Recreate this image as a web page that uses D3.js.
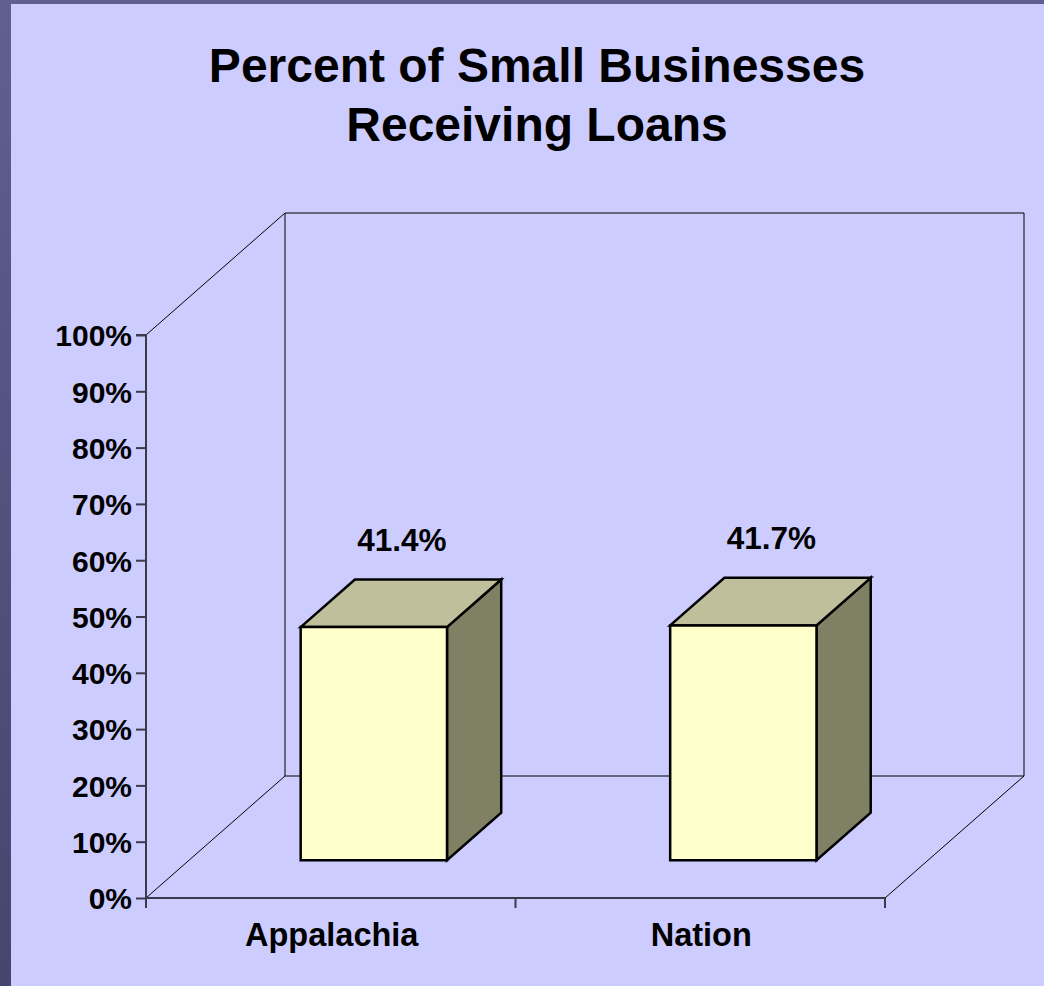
<!DOCTYPE html>
<html>
<head>
<meta charset="utf-8">
<script src="https://cdn.jsdelivr.net/npm/d3@7"></script>
<style>
  html, body { margin: 0; padding: 0; background: #5a5a8a; }
  svg { display: block; }
  text { font-family: "Liberation Sans", Arial, sans-serif; font-weight: bold; fill: #000; }
</style>
</head>
<body>
<svg id="chart" width="1044" height="986"></svg>
<script>
// Chart data
const categories = ["Appalachia", "Nation"];
const values = [0.414, 0.417];
const valueLabels = ["41.4%", "41.7%"];
const tickValues = [0, 0.1, 0.2, 0.3, 0.4, 0.5, 0.6, 0.7, 0.8, 0.9, 1.0];
const titleLines = ["Percent of Small Businesses", "Receiving Loans"];

const W = 1044, H = 986;
const svg = d3.select("#chart");

// Slide backdrop and chart panel
const defs = svg.append("defs");
const bg = defs.append("linearGradient").attr("id", "slideBg")
  .attr("x1", 0).attr("y1", 0).attr("x2", 0).attr("y2", 1);
bg.append("stop").attr("offset", "0%").attr("stop-color", "#5f5f92");
bg.append("stop").attr("offset", "100%").attr("stop-color", "#45456d");
svg.append("rect").attr("width", W).attr("height", H).attr("fill", "url(#slideBg)");
svg.append("rect").attr("x", 11).attr("y", 4).attr("width", W - 11).attr("height", H - 4)
  .attr("fill", "#ccccff");

// Plot geometry (front plane) and depth offset of the 3D box
const plot = { left: 146, right: 885, top: 335, bottom: 898 };
const depth = { dx: 139, dy: -122 };
const barDepth = { front: 0.31, back: 0.70 };

const x = d3.scaleBand().domain(categories).range([plot.left, plot.right]).paddingInner(0).paddingOuter(0);
const y = d3.scaleLinear().domain([0, 1]).range([plot.bottom, plot.top]);

const proj = (px, py, z) => [px + z * depth.dx, py + z * depth.dy];

// Walls and floor outline
const walls = svg.append("g").attr("fill", "none").attr("stroke", "#000").attr("stroke-width", 1);
const bTL = proj(plot.left, plot.top, 1), bBL = proj(plot.left, plot.bottom, 1);
const bTR = proj(plot.right, plot.top, 1), bBR = proj(plot.right, plot.bottom, 1);
walls.append("path").attr("d", `M${bBL}L${bTL}L${bTR}L${bBR}L${bBL}`);
walls.append("line").attr("x1", plot.left).attr("y1", plot.top).attr("x2", bTL[0]).attr("y2", bTL[1]);
walls.append("line").attr("x1", plot.left).attr("y1", plot.bottom).attr("x2", bBL[0]).attr("y2", bBL[1]);
walls.append("line").attr("x1", plot.right).attr("y1", plot.bottom).attr("x2", bBR[0]).attr("y2", bBR[1]);

// Axes
const yAxis = d3.axisLeft(y).tickValues(tickValues).tickFormat(d3.format(".0%")).tickSize(10).tickPadding(4);
const gy = svg.append("g").attr("transform", `translate(${plot.left},0)`).call(yAxis);
gy.select(".domain").attr("stroke", "#3a3a4a").attr("stroke-width", 2)
  .attr("d", `M-10,${plot.top}H0V${plot.bottom + 10}`);
gy.selectAll(".tick line").attr("stroke", "#3a3a4a").attr("stroke-width", 2);
gy.selectAll(".tick text").style("font-size", "30px").style("font-weight", "bold")
  .style("font-family", "'Liberation Sans', Arial, sans-serif").attr("fill", "#000").attr("dy", "0.36em");

const xAxisLine = svg.append("g").attr("stroke", "#3a3a4a").attr("stroke-width", 2);
xAxisLine.append("line").attr("x1", plot.left).attr("x2", plot.right).attr("y1", plot.bottom).attr("y2", plot.bottom);
const xEdges = categories.map(c => x(c)).concat([x(categories[categories.length - 1]) + x.bandwidth()]);
xAxisLine.selectAll("line.tk").data(xEdges).join("line").attr("class", "tk")
  .attr("x1", d => d).attr("x2", d => d).attr("y1", plot.bottom).attr("y2", plot.bottom + 10);

svg.append("g").selectAll("text").data(categories).join("text")
  .attr("x", d => x(d) + x.bandwidth() / 2 + 1).attr("y", 946)
  .attr("text-anchor", "middle").style("font-size", "32.5px").text(d => d);

// 3D bars
const barFrac = 0.396;
const bars = svg.append("g").attr("stroke", "#000").attr("stroke-width", 2.5).attr("stroke-linejoin", "miter");
categories.forEach((c, i) => {
  const bw = x.bandwidth() * barFrac;
  const fx0 = x(c) + (x.bandwidth() - bw) / 2, fx1 = fx0 + bw;
  const [x0, yb] = proj(fx0, y(0), barDepth.front);
  const [x1, yt] = proj(fx1, y(values[i]), barDepth.front);
  const ddx = (barDepth.back - barDepth.front) * depth.dx;
  const ddy = (barDepth.back - barDepth.front) * depth.dy;
  // side face
  bars.append("path").attr("fill", "#808064")
    .attr("d", `M${x1},${yt}L${x1 + ddx},${yt + ddy}L${x1 + ddx},${yb + ddy}L${x1},${yb}Z`);
  // top face
  bars.append("path").attr("fill", "#bfbf9c")
    .attr("d", `M${x0},${yt}L${x0 + ddx},${yt + ddy}L${x1 + ddx},${yt + ddy}L${x1},${yt}Z`);
  // front face
  bars.append("path").attr("fill", "#ffffcc")
    .attr("d", `M${x0},${yt}L${x1},${yt}L${x1},${yb}L${x0},${yb}Z`);
  // value label
  svg.append("text").attr("x", (x0 + x1 + ddx) / 2 + 1).attr("y", yt + ddy - 29)
    .attr("text-anchor", "middle").style("font-size", "31.5px").text(valueLabels[i]);
});

// Title
svg.append("g").selectAll("text").data(titleLines).join("text")
  .attr("x", 537).attr("y", (d, i) => 82 + i * 59)
  .attr("text-anchor", "middle").style("font-size", "48px").text(d => d);
</script>
</body>
</html>
